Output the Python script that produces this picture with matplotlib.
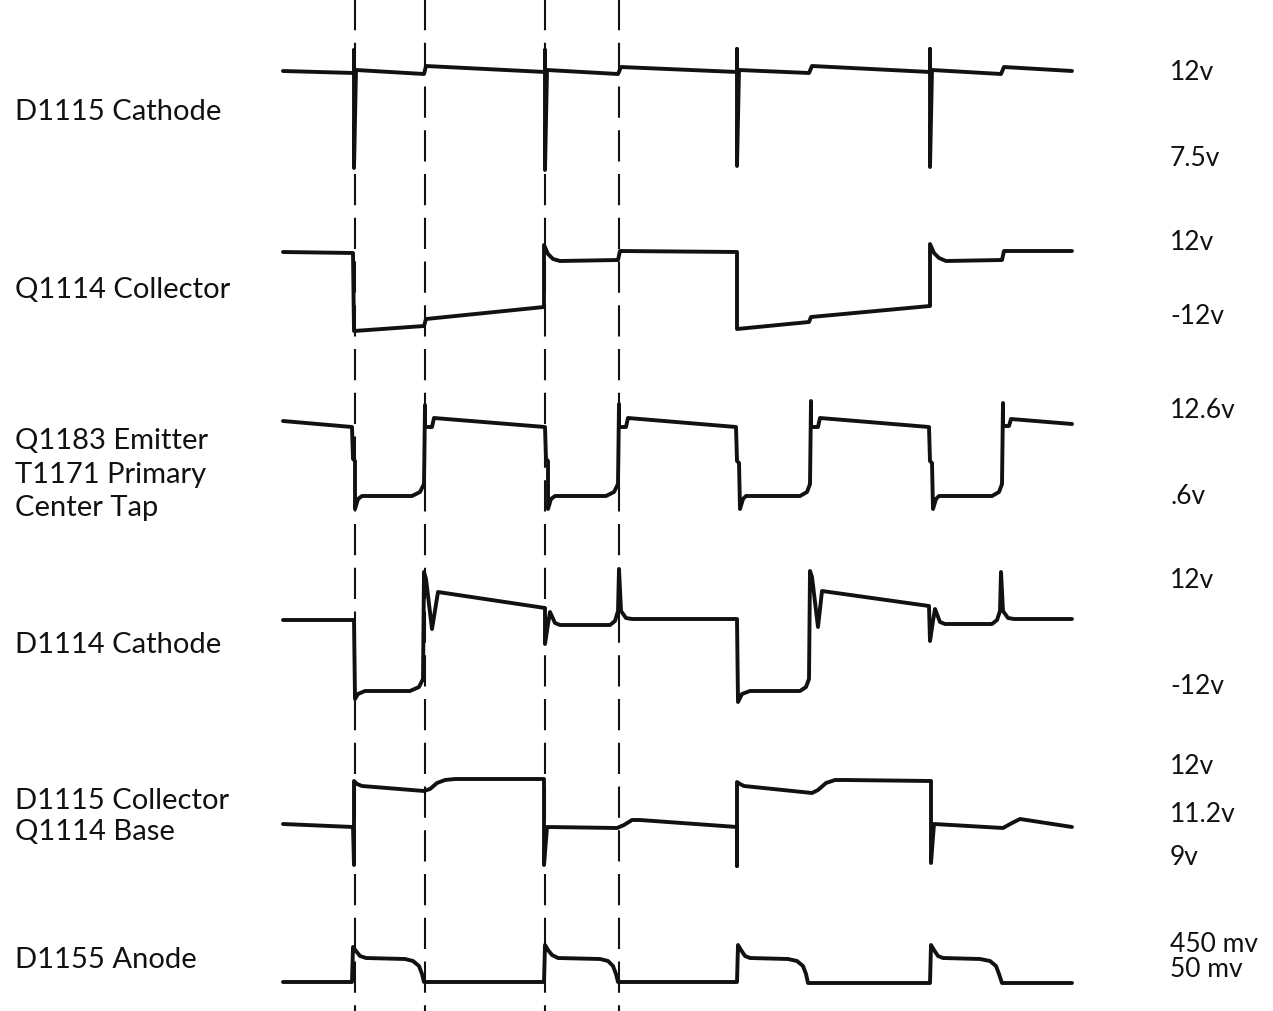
import matplotlib
matplotlib.use("Agg")
import matplotlib.pyplot as plt

plt.rcParams['font.family'] = ['Lato', 'DejaVu Sans']

# sheet is measured in scope units: t runs left->right, v runs top->bottom
W, H = 1273, 1012

# timing markers (dashed)
markers = [355, 425, 545, 619]

# D1115 Cathode
t1 = [283, 354, 354, 354, 356, 424, 426, 545, 545, 545, 547, 618, 621, 737, 737, 737,
      739, 809, 812, 930, 930, 930, 932, 1001, 1004, 1072]
v1 = [72, 74, 51, 169, 71, 75, 67, 73, 51, 171, 71, 75, 68, 73, 50, 167,
      71, 74, 67, 73, 50, 168, 71, 75, 68, 72]

# Q1114 Collector
t2 = [283, 353, 354, 424, 426, 544, 544, 548, 553, 560, 618, 620, 737, 737, 809, 811,
      930, 930, 934, 939, 946, 1002, 1004, 1072]
v2 = [253, 254, 332, 327, 320, 308, 246, 255, 260, 262, 261, 252, 253, 330, 323, 318,
      307, 245, 254, 259, 262, 261, 252, 252]

# Q1183 Emitter / T1171 Primary Center Tap
t3 = [283, 352, 353, 355, 355, 358, 362, 412, 420, 424, 425, 425, 432, 434,
      545, 546, 548, 548, 551, 555, 606, 614, 618, 619, 619, 626, 628,
      736, 737, 739, 740, 743, 746, 800, 807, 810, 811, 811, 818, 820,
      929, 930, 932, 933, 936, 939, 992, 999, 1002, 1003, 1003, 1009, 1011, 1072]
v3 = [422, 428, 460, 462, 510, 500, 497, 497, 493, 485, 406, 428, 428, 419,
      428, 460, 462, 510, 500, 497, 497, 493, 485, 405, 428, 428, 419,
      428, 462, 464, 510, 500, 497, 497, 493, 485, 402, 428, 428, 419,
      428, 462, 464, 510, 500, 497, 497, 493, 485, 404, 427, 427, 420, 425]

# D1114 Cathode
t4 = [283, 354, 355, 358, 365, 410, 419, 423, 424, 426, 432, 438,
      545, 545, 548, 550, 555, 560, 610, 615, 618, 619, 621, 626, 632,
      737, 738, 742, 750, 800, 806, 809, 810, 812, 818, 822,
      929, 930, 933, 935, 940, 945, 992, 997, 1000, 1001, 1003, 1008, 1014, 1072]
v4 = [621, 621, 700, 695, 692, 692, 688, 680, 573, 580, 630, 593,
      609, 645, 625, 613, 624, 626, 626, 622, 612, 570, 612, 619, 620,
      620, 703, 695, 692, 692, 688, 680, 572, 578, 628, 592,
      607, 642, 622, 610, 623, 625, 625, 621, 612, 573, 612, 619, 620, 620]

# D1115 Collector / Q1114 Base
t5 = [283, 353, 354, 354, 357, 362, 424, 430, 437, 445, 455, 544, 544, 547,
      617, 624, 632, 640, 737, 737, 737, 740, 744, 812, 818, 826, 835, 845,
      931, 931, 934, 1003, 1012, 1020, 1072]
v5 = [825, 828, 866, 782, 785, 787, 792, 790, 784, 781, 780, 780, 866, 828,
      829, 826, 821, 821, 828, 867, 783, 785, 787, 794, 791, 784, 781, 781,
      782, 864, 825, 829, 824, 820, 828]

# D1155 Anode
t6 = [283, 352, 353, 356, 360, 366, 405, 413, 419, 422, 424,
      544, 545, 548, 552, 558, 600, 608, 613, 616, 618,
      737, 738, 741, 745, 750, 788, 797, 803, 806, 808,
      930, 931, 934, 938, 943, 980, 990, 996, 999, 1002, 1072]
v6 = [983, 983, 948, 952, 957, 959, 960, 962, 967, 975, 983,
      983, 946, 951, 956, 959, 960, 962, 967, 975, 983,
      983, 946, 951, 957, 959, 960, 962, 967, 975, 984,
      984, 946, 951, 957, 959, 960, 962, 967, 975, 984, 984]

traces = [(t1, v1), (t2, v2), (t3, v3), (t4, v4), (t5, v5), (t6, v6)]

left_labels = ["D1115 Cathode", "Q1114 Collector", "Q1183 Emitter", "T1171 Primary",
               "Center Tap", "D1114 Cathode", "D1115 Collector", "Q1114 Base", "D1155 Anode"]
left_pos = [112, 290, 441, 475, 508, 645, 801, 832, 960]

right_labels = ["12v", "7.5v", "12v", "-12v", "12.6v", ".6v", "12v", "-12v",
                "12v", "11.2v", "9v", "450 mv", "50 mv"]
right_pos = [72, 158, 242, 316, 411, 497, 580, 686, 767, 815, 858, 945, 970]

fig = plt.figure(figsize=(W / 100, H / 100), dpi=100)
ax = fig.add_axes([0, 0, 1, 1])
ax.set_xlim(0, W)
ax.set_ylim(H, 0)
ax.axis('off')

for x in markers:
    ax.plot([x, x], [0, H], color='#111111', lw=1.5, dashes=(15, 6))

for t, v in traces:
    ax.plot(t, v, color='#111111', lw=2.8, solid_joinstyle='round', solid_capstyle='round')

for s, y in zip(left_labels, left_pos):
    ax.text(15, y, s, fontsize=21, va='center', ha='left', color='#111111')

for s, y in zip(right_labels, right_pos):
    ax.text(1170, y, s, fontsize=19, va='center', ha='left', color='#111111')

fig.savefig("out.png", dpi=100)
